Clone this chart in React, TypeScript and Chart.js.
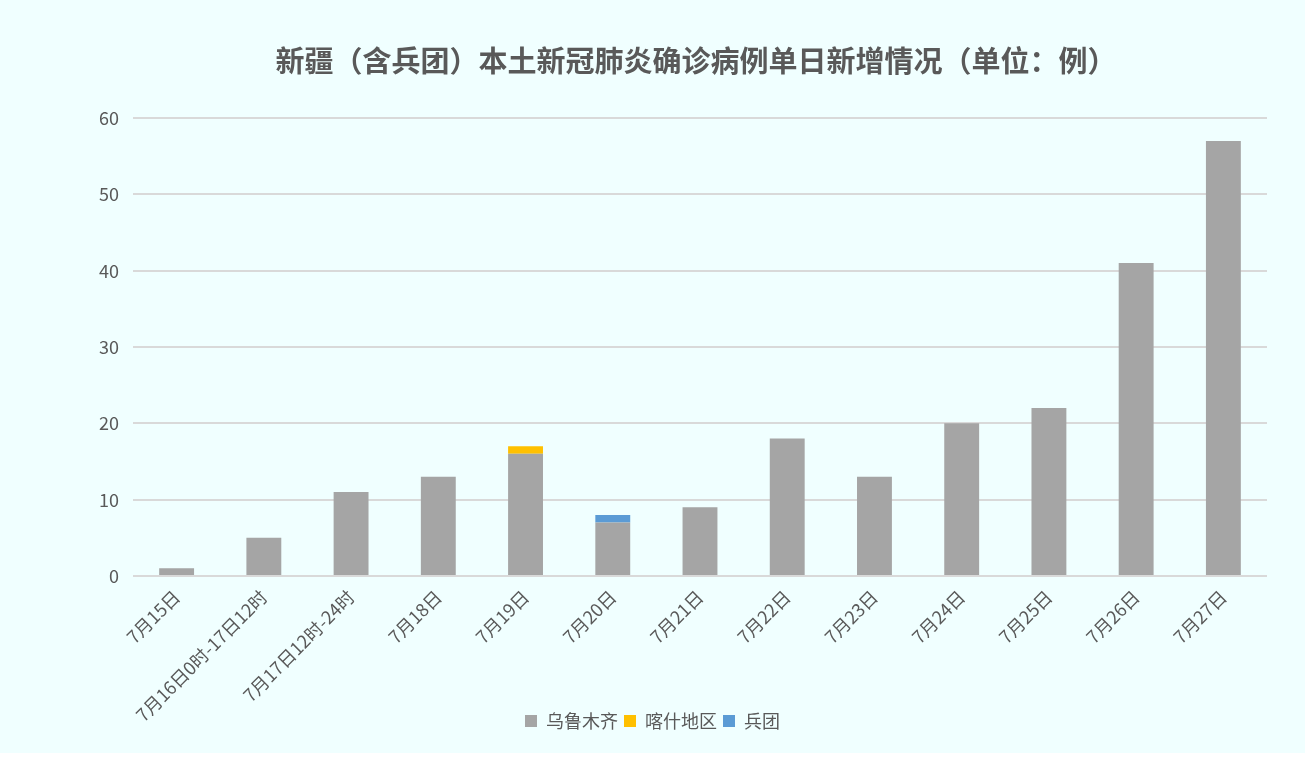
import React, { useEffect, useRef } from "react";
import { Chart, registerables } from "chart.js";

Chart.register(...registerables);

const categories = [
  "7月15日",
  "7月16日0时-17日12时",
  "7月17日12时-24时",
  "7月18日",
  "7月19日",
  "7月20日",
  "7月21日",
  "7月22日",
  "7月23日",
  "7月24日",
  "7月25日",
  "7月26日",
  "7月27日",
];
const urumqi = [1, 5, 11, 13, 16, 7, 9, 18, 13, 20, 22, 41, 57];
const kashgar = [0, 0, 0, 0, 1, 0, 0, 0, 0, 0, 0, 0, 0];
const bingtuan = [0, 0, 0, 0, 0, 1, 0, 0, 0, 0, 0, 0, 0];
const yTicks = [0, 10, 20, 30, 40, 50, 60];
const titleText = "新疆（含兵团）本土新冠肺炎确诊病例单日新增情况（单位：例）";

const FONT = "'Noto Sans CJK SC', 'Noto Sans', sans-serif";
const TXT = "#595959";

const titlePlugin = {
  id: "customTitle",
  afterLayout(chart: any) {
    if (chart.legend) {
      chart.legend.left += 19;
      chart.legend.right += 19;
    }
  },
  afterDraw(chart: any) {
    const ctx = chart.ctx;
    ctx.save();
    ctx.fillStyle = TXT;
    ctx.font = `bold 29px ${FONT}`;
    ctx.textAlign = "center";
    ctx.textBaseline = "middle";
    ctx.fillText(titleText, 696, 61);
    ctx.restore();
  },
};

export default function App() {
  const ref = useRef<HTMLCanvasElement | null>(null);
  useEffect(() => {
    if (!ref.current) return;
    const chart = new Chart(ref.current, {
      type: "bar",
      data: {
        labels: categories,
        datasets: [
          { label: "乌鲁木齐", data: urumqi, backgroundColor: "#A5A5A5" },
          { label: "喀什地区", data: kashgar, backgroundColor: "#FFC000" },
          { label: "兵团", data: bingtuan, backgroundColor: "#5B9BD5" },
        ],
      },
      options: {
        responsive: false,
        animation: false,
        datasets: { bar: { barPercentage: 0.4, categoryPercentage: 1 } },
        layout: { padding: { left: 0, right: 38, top: 118, bottom: 13 } },
        plugins: {
          title: { display: false },
          legend: {
            position: "bottom",
            labels: {
              color: TXT,
              font: { family: FONT, size: 18 },
              boxWidth: 12,
              boxHeight: 12,
              padding: 6,
            },
          },
          tooltip: { enabled: false },
        },
        scales: {
          x: {
            stacked: true,
            grid: { display: false, drawTicks: false },
            border: { display: false },
            ticks: {
              color: TXT,
              font: { family: FONT, size: 18 },
              minRotation: 45,
              maxRotation: 45,
              autoSkip: false,
              padding: 10,
            },
            afterFit: (s: any) => {
              s.height = 130;
              s._computeLabelArea = () => undefined;
            },
          },
          y: {
            stacked: true,
            min: 0,
            max: 60,
            afterBuildTicks: (s: any) => {
              s.ticks = yTicks.map((v) => ({ value: v }));
            },
            grid: { color: "#D9D9D9", lineWidth: 2, drawTicks: false },
            border: { display: false },
            ticks: {
              color: TXT,
              font: { family: FONT, size: 18 },
              padding: 14,
            },
            afterFit: (s: any) => {
              s.width = 133;
            },
          },
        },
      },
      plugins: [titlePlugin],
    });
    return () => chart.destroy();
  }, []);
  return (
    <div
      style={{
        position: "fixed",
        left: 0,
        top: 0,
        width: 1305,
        height: 753,
        background: "#F0FFFF",
      }}
    >
      <canvas ref={ref} width={1305} height={753} style={{ display: "block" }} />
    </div>
  );
}
